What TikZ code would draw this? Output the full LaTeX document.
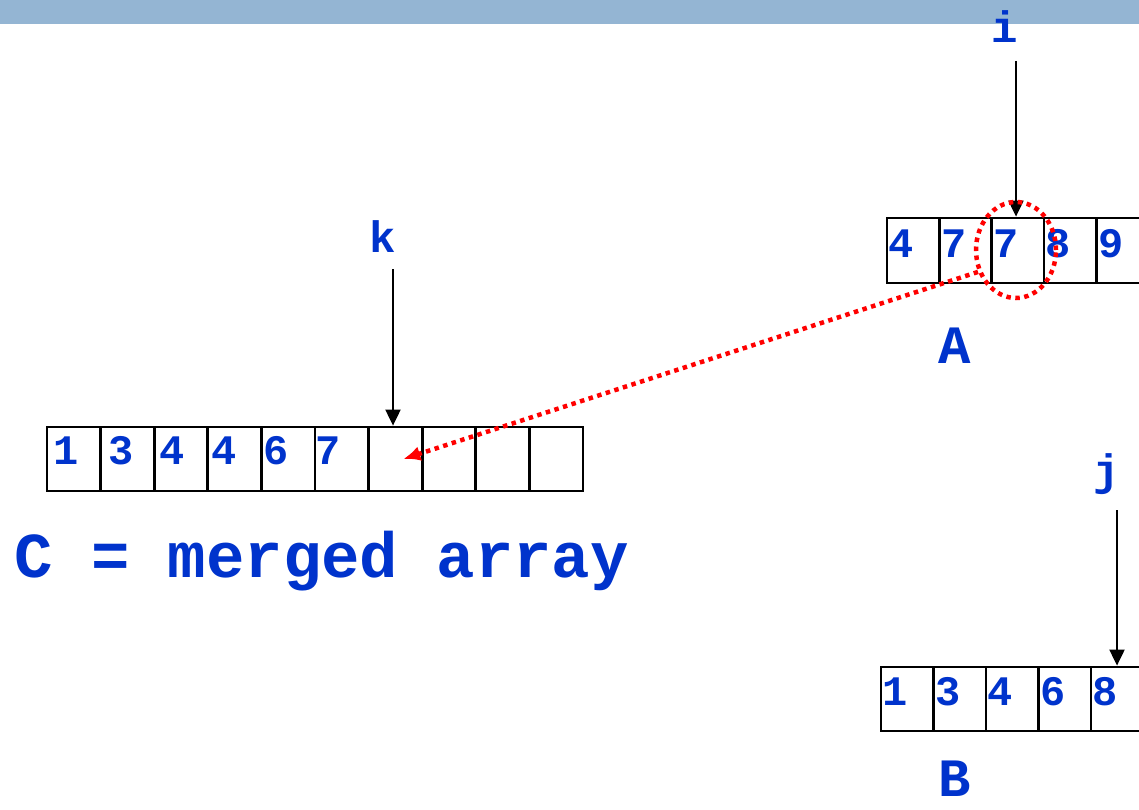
\documentclass[tikz,border=0pt]{standalone}
\usepackage{fontspec}
\usetikzlibrary{shapes.geometric,arrows.meta,calc}
\newfontfamily\cour{Liberation Mono}
\definecolor{txtblue}{HTML}{0033CC}
\definecolor{barblue}{HTML}{94B5D3}
\definecolor{dotred}{HTML}{FF0000}
\tikzset{
  cellbox/.style={draw=black, line width=2.8pt, inner sep=0pt, minimum height=#1},
  digit/.style={text=txtblue, font=\cour\bfseries\fontsize{42}{44}\selectfont, inner sep=0pt, anchor=west},
  lab/.style={text=txtblue, font=\cour\bfseries\fontsize{44}{46}\selectfont, inner sep=0pt},
  biglab/.style={text=txtblue, font=\cour\bfseries\fontsize{54}{56}\selectfont, inner sep=0pt},
  ptr/.style={draw=black, line width=2pt, -{Triangle[length=16pt,width=15pt]}},
  redptr/.style={draw=dotred, line width=4.5pt, dash pattern=on 4.5pt off 4.5pt, -{Latex[length=17pt,width=15pt]}},
  redring/.style={draw=dotred, line width=4.5pt, dash pattern=on 4.5pt off 4.5pt, ellipse, inner sep=0pt}
}
\begin{document}
\begin{tikzpicture}[x=1pt,y=-1pt]
\useasboundingbox (0,0) rectangle (1139,810);
\clip (0,0) rectangle (1139,810);
\fill[barblue] (0,0) rectangle (1139,24);

% Array A
\foreach \v [count=\n] in {4,7,7,8,9} {
  \node[cellbox=65pt, minimum width=52.3pt] (A\n) at ({887+(\n-0.5)*52.3},250.5) {};
  \node[digit] (Ad\n) at ($(A\n.west)+(3,-7)$) {\v};
}
% Array B
\foreach \v [count=\n] in {1,3,4,6,8} {
  \node[cellbox=64pt, minimum width=52.5pt] (B\n) at ({881+(\n-0.5)*52.5},699) {};
  \node[digit] (Bd\n) at ($(B\n.west)+(3,-7)$) {\v};
}
% Array C
\foreach \n in {1,...,10} {
  \node[cellbox=64pt, minimum width=53.6pt] (C\n) at ({47+(\n-0.5)*53.6},459) {};
}
\foreach \v/\p [count=\n] in {1/8,3/9,4/6,4/5,6/3,7/2} {
  \node[digit] (Cd\n) at ($(C\n.west)+(\p,-8)$) {\v};
}

% labels
\node[lab] (ilab) at (1005,27) {i};
\node[lab] (klab) at (383,237) {k};
\node[lab] (jlab) at (1107,474) {j};
\node[biglab] (Alab) at (955,346) {A};
\node[biglab] (Blab) at (955,779) {B};
\node[text=txtblue, font=\cour\bfseries\fontsize{64}{66}\selectfont, inner sep=0pt, anchor=west] (Clab) at (14,561) {C = merged array};

% pointers
\coordinate (istart) at (1016,61);
\coordinate (kstart) at (393,269);
\coordinate (jstart) at (1117,510);
\draw[ptr] (istart) -- (A3.north -| istart);
\draw[ptr] (kstart) -- (C7.north -| kstart);
\draw[ptr] (jstart) -- (B5.north -| jstart);

% red ring and move arrow
\node[redring, minimum width=80pt, minimum height=96pt] (ring) at (1016,250) {};
\coordinate (tip) at ($(C7.center)+(8,0)$);
\draw[redptr] (ring.210) -- (tip);
\end{tikzpicture}
\end{document}
